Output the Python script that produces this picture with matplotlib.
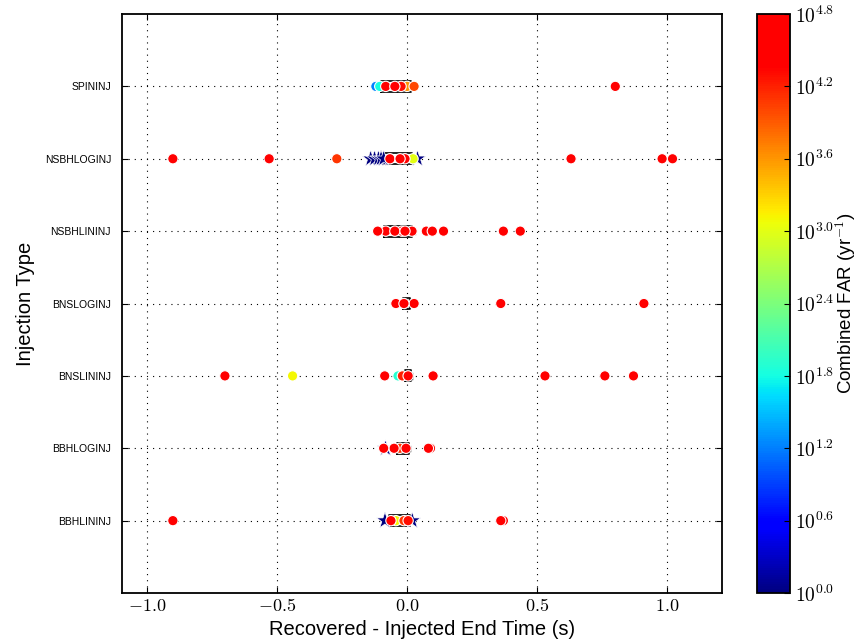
import numpy as np
import matplotlib
matplotlib.use("Agg")
import matplotlib.pyplot as plt
from matplotlib.ticker import FuncFormatter
from matplotlib.colors import LinearSegmentedColormap

plt.rcParams['mathtext.fontset'] = 'cm'
plt.rcParams['font.family'] = ['Liberation Sans', 'DejaVu Sans']

categories = ['BBHLININJ', 'BBHLOGINJ', 'BNSLININJ', 'BNSLOGINJ',
              'NSBHLININJ', 'NSBHLOGINJ', 'SPININJ']

# Recovered - injected end time (s) and log10 combined FAR for found points
dt_bbhlin = [-0.90, -0.062, -0.043, -0.012, 0.004, 0.36, 0.37]
far_bbhlin = [4.7, 4.6, 3.1, 4.1, 4.3, 4.7, 4.5]
dt_bbhlog = [-0.09, -0.05, -0.028, -0.004, 0.082, 0.09]
far_bbhlog = [4.7, 4.6, 4.1, 4.6, 4.7, 4.6]
dt_bnslin = [-0.70, -0.44, -0.086, -0.035, -0.018, 0.004, 0.10, 0.53, 0.76, 0.87]
far_bnslin = [4.7, 3.1, 4.7, 1.9, 4.2, 4.7, 4.7, 4.7, 4.7, 4.7]
dt_bnslog = [-0.043, -0.012, 0.027, 0.36, 0.91]
far_bnslog = [4.7, 4.7, 4.6, 4.7, 4.7]
dt_nsbhlin = [-0.113, -0.082, -0.047, -0.02, -0.008, 0.019, 0.074, 0.097, 0.14, 0.37, 0.435]
far_nsbhlin = [4.7, 4.7, 4.7, 4.6, 4.7, 4.6, 4.7, 4.7, 4.7, 4.7, 4.7]
dt_nsbhlog = [-0.90, -0.53, -0.27, -0.066, -0.027, -0.008, 0.023, 0.63, 0.98, 1.02]
far_nsbhlog = [4.7, 4.7, 4.1, 4.7, 4.7, 4.6, 3.0, 4.7, 4.7, 4.4]
dt_spin = [-0.12, -0.105, -0.082, -0.047, -0.023, 0.0, 0.027, 0.80]
far_spin = [1.2, 1.8, 4.5, 4.7, 4.3, 3.6, 4.0, 4.7]

# Zero-FAR (loudest) events, drawn as stars
star_bbhlin = [-0.085, 0.02]
star_bbhlog = [-0.085]
star_bnslin = []
star_bnslog = []
star_nsbhlin = []
star_nsbhlog = [-0.14, -0.125, -0.11, -0.10, -0.09, 0.04]
star_spin = []

# Box-plot summary of the full (mostly overlapping) timing distribution
box_q1 = [-0.07, -0.04, -0.008, -0.016, -0.09, -0.09, -0.10]
box_med = [-0.02, -0.01, 0.004, 0.0, -0.03, -0.03, -0.04]
box_q3 = [0.01, 0.006, 0.016, 0.012, 0.02, 0.02, 0.016]
box_lo = [-0.085, -0.09, -0.035, -0.03, -0.11, -0.14, -0.12]
box_hi = [0.02, 0.01, 0.02, 0.02, 0.03, 0.04, 0.027]

dts = [dt_bbhlin, dt_bbhlog, dt_bnslin, dt_bnslog, dt_nsbhlin, dt_nsbhlog, dt_spin]
fars = [far_bbhlin, far_bbhlog, far_bnslin, far_bnslog, far_nsbhlin, far_nsbhlog, far_spin]
stars = [star_bbhlin, star_bbhlog, star_bnslin, star_bnslog, star_nsbhlin, star_nsbhlog, star_spin]

# jet-like colormap that stays bright red at the top
cdict = {
    'red': [(0.0, 0, 0), (0.35, 0, 0), (0.66, 1, 1), (1.0, 1, 1)],
    'green': [(0.0, 0, 0), (0.125, 0, 0), (0.375, 1, 1), (0.64, 1, 1), (0.91, 0, 0), (1.0, 0, 0)],
    'blue': [(0.0, 0.5, 0.5), (0.11, 1, 1), (0.34, 1, 1), (0.65, 0, 0), (1.0, 0, 0)],
}
cmap = LinearSegmentedColormap('jetred', cdict, 256)

fig = plt.figure(figsize=(8.6, 6.4), dpi=100)
ax = fig.add_axes([0.142, 0.0734, 0.6975, 0.9047])
cax = fig.add_axes([0.880, 0.0734, 0.0386, 0.9047])

ypos = np.arange(1, len(categories) + 1)

stats = []
for i in range(len(categories)):
    stats.append(dict(q1=box_q1[i], med=box_med[i], q3=box_q3[i],
                      whislo=box_lo[i], whishi=box_hi[i], fliers=[]))
ax.bxp(stats, positions=ypos, vert=False, widths=0.15, showfliers=False,
       boxprops=dict(color='black', linewidth=1.2),
       whiskerprops=dict(color='black', linewidth=1.0, linestyle='-'),
       capprops=dict(color='black', linewidth=1.0),
       medianprops=dict(color='black', linewidth=1.0))

vmin, vmax = 0.0, 4.8
sc = None
for y, d, f, s in zip(ypos, dts, fars, stars):
    if len(s):
        ax.scatter(s, [y] * len(s), c=[0.0] * len(s), cmap=cmap, vmin=vmin, vmax=vmax,
                   marker='*', s=160, edgecolors='white', linewidths=0.5, zorder=3)
    order = np.argsort(f)
    sc = ax.scatter(np.array(d)[order], [y] * len(d), c=np.array(f)[order], cmap=cmap,
                    vmin=vmin, vmax=vmax, marker='o', s=55, edgecolors='white',
                    linewidths=0.8, zorder=4)

ax.set_xlim(-1.095, 1.21)
ax.set_ylim(0, len(categories) + 1)
ax.set_yticks(ypos)
ax.set_yticklabels(categories, fontsize=7.5)
ax.set_xticks([-1.0, -0.5, 0.0, 0.5, 1.0])
ax.xaxis.set_major_formatter(FuncFormatter(lambda v, p: r'$%.1f$' % v))
ax.tick_params(axis='x', labelsize=13)
ax.tick_params(direction='in', top=True, right=True, length=4)
ax.tick_params(axis='y', pad=8)
ax.grid(True, color='black', linestyle=(0, (1, 4.5)), linewidth=0.8)
ax.set_axisbelow(True)
for sp in ax.spines.values():
    sp.set_linewidth(1.3)
ax.set_xlabel('Recovered - Injected End Time (s)', fontsize=14.5, labelpad=4)
ax.set_ylabel('Injection Type', fontsize=14.5, labelpad=7)

cb = fig.colorbar(sc, cax=cax)
ticks = np.arange(0.0, 4.81, 0.6)
cb.set_ticks(ticks)
cb.set_ticklabels([r'$10^{%.1f}$' % t for t in ticks])
cb.ax.tick_params(labelsize=14, direction='in', length=4)
cb.outline.set_linewidth(1.3)
cb.set_label(r'Combined FAR (yr$^{-1}$)', fontsize=13.5, labelpad=-1)

fig.savefig('out.png', dpi=100)
